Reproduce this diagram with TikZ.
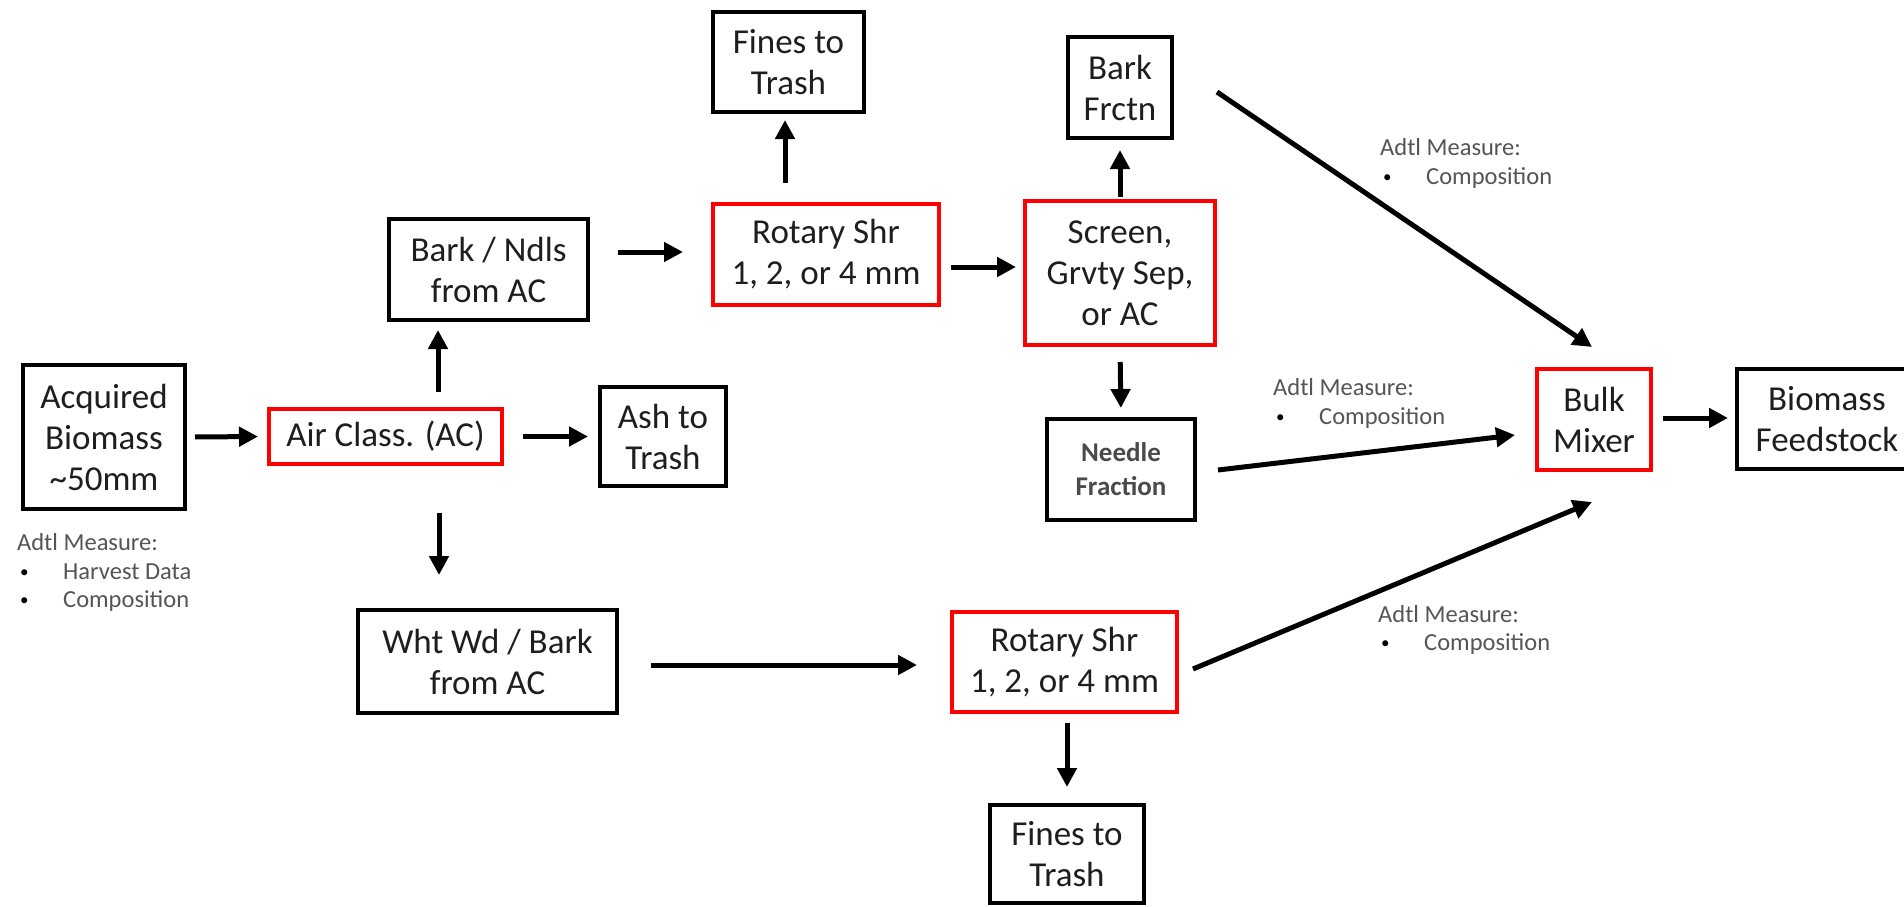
\documentclass[tikz,border=0pt]{standalone}
\usepackage{fontspec}
\setmainfont{Carlito}
\usetikzlibrary{arrows.meta,calc}
\definecolor{txt}{HTML}{1E1E1E}
\definecolor{anncol}{HTML}{555555}
\definecolor{ndlcol}{HTML}{4A4A4A}
\newcommand\mainsz{\fontsize{35}{41}\selectfont}
\newcommand\annsz{\fontsize{24.5}{29}\selectfont}
\newcommand\ndlsz{\fontsize{27}{34}\selectfont\bfseries}
\tikzset{
  box/.style={draw=black, line width=4pt, inner sep=0pt, align=center, font=\mainsz, text=txt},
  redbox/.style={box, draw=red},
  arr/.style={line width=5pt, -{Triangle[length=19pt,width=19pt]}},
  ann/.style={anchor=base west, inner sep=0pt, font=\annsz, text=anncol},
}
\newcommand\bul[1]{\makebox[43pt][l]{\textcolor{black}{\fontsize{17}{17}\selectfont\raisebox{1.5pt}{\textbullet}}}#1}
\begin{document}
\begin{tikzpicture}[x=1pt,y=-1pt]
\useasboundingbox (0,0) rectangle (1904,907);
\fill[white] (0,0) rectangle (1904,907);

% nodes
\node[box, minimum width=162pt, minimum height=144pt] (acq) at (104,437) {Acquired\\Biomass\\\textasciitilde50mm};
\node[redbox, minimum width=233pt, minimum height=55pt] (ac) at (385.5,436.5) {Air Class. (AC)};
\node[box, minimum width=126pt, minimum height=99pt] (ash) at (663,436.5) {Ash to\\Trash};
\node[box, minimum width=199pt, minimum height=101pt] (bn) at (488.5,269.5) {Bark / Ndls\\from AC};
\node[box, minimum width=151pt, minimum height=100pt] (fines1) at (788.5,62) {Fines to\\Trash};
\node[redbox, minimum width=226pt, minimum height=101pt] (rot1) at (826,254.5) {Rotary Shr\\1, 2, or 4 mm};
\node[redbox, minimum width=190pt, minimum height=144pt] (screen) at (1120,273) {Screen,\\Grvty Sep,\\or AC};
\node[box, minimum width=104pt, minimum height=101pt] (barkf) at (1120,87.5) {Bark\\Frctn};
\node[box, minimum width=148pt, minimum height=101pt, font=\ndlsz, text=ndlcol] (needle) at (1121,469.5) {Needle\\Fraction};
\node[redbox, minimum width=114pt, minimum height=101pt] (bulk) at (1594,419.5) {Bulk\\Mixer};
\node[box, minimum width=180pt, minimum height=100pt] (bio) at (1827,419) {Biomass\\Feedstock};
\node[box, minimum width=259pt, minimum height=103pt] (wht) at (487.5,661.5) {Wht Wd / Bark\\from AC};
\node[redbox, minimum width=225pt, minimum height=100pt] (rot2) at (1064.5,662) {Rotary Shr\\1, 2, or 4 mm};
\node[box, minimum width=154pt, minimum height=98pt] (fines2) at (1067,854) {Fines to\\Trash};

% connectors
\draw[arr, shorten <=8pt, shorten >=9pt] (acq.east) -- (ac.west);
\draw[arr] ($(ac.north)+(52.5,-15)$) -- ($(bn.south)+(-50.5,8)$);
\draw[arr] ($(ac.south)+(53.5,47)$) -- ($(wht.north)+(-48.5,-33)$);
\draw[arr, shorten <=19pt, shorten >=10pt] (ac.east) -- (ash.west);
\draw[arr] ($(bn.east)+(28,-17.5)$) -- ($(rot1.west)+(-28,-2.5)$);
\draw[arr] ($(rot1.north)+(-41,-19)$) -- ($(fines1.south)+(-3.5,6)$);
\draw[arr] ($(rot1.east)+(10,12.5)$) -- ($(screen.west)+(-7,-6)$);
\draw[arr, shorten <=2pt, shorten >=10pt] (screen.north) -- (barkf.south);
\draw[arr, shorten <=15pt, shorten >=9pt] (screen.south) -- (needle.north);
\draw[arr] ($(barkf.east)+(43,4.5)$) -- ($(bulk.north)+(-2,-20)$);
\draw[arr] ($(needle.east)+(21,0.5)$) -- ($(bulk.west)+(-20,15.5)$);
\draw[arr] ($(rot2.east)+(14,7)$) -- ($(bulk.south)+(-2,30)$);
\draw[arr] ($(wht.east)+(32,3.5)$) -- ($(rot2.west)+(-33,3)$);
\draw[arr] ($(rot2.south)+(2.5,9)$) -- ($(fines2.north)+(0,-16)$);
\draw[arr] ($(bulk.east)+(10,-1.5)$) -- ($(bio.west)+(-7,-1)$);

% annotations
\node[ann] (a1) at (17,550) {Adtl Measure:};
\node[ann] (a1b) at (20,579) {\bul{Harvest Data}};
\node[ann] (a1c) at (20,607) {\bul{Composition}};

\node[ann] (a2) at (1380,155) {Adtl Measure:};
\node[ann] (a2b) at (1383,184) {\bul{Composition}};

\node[ann] (a3) at (1273,395) {Adtl Measure:};
\node[ann] (a3b) at (1276,424) {\bul{Composition}};

\node[ann] (a4) at (1378,622) {Adtl Measure:};
\node[ann] (a4b) at (1381,650) {\bul{Composition}};
\end{tikzpicture}
\end{document}
